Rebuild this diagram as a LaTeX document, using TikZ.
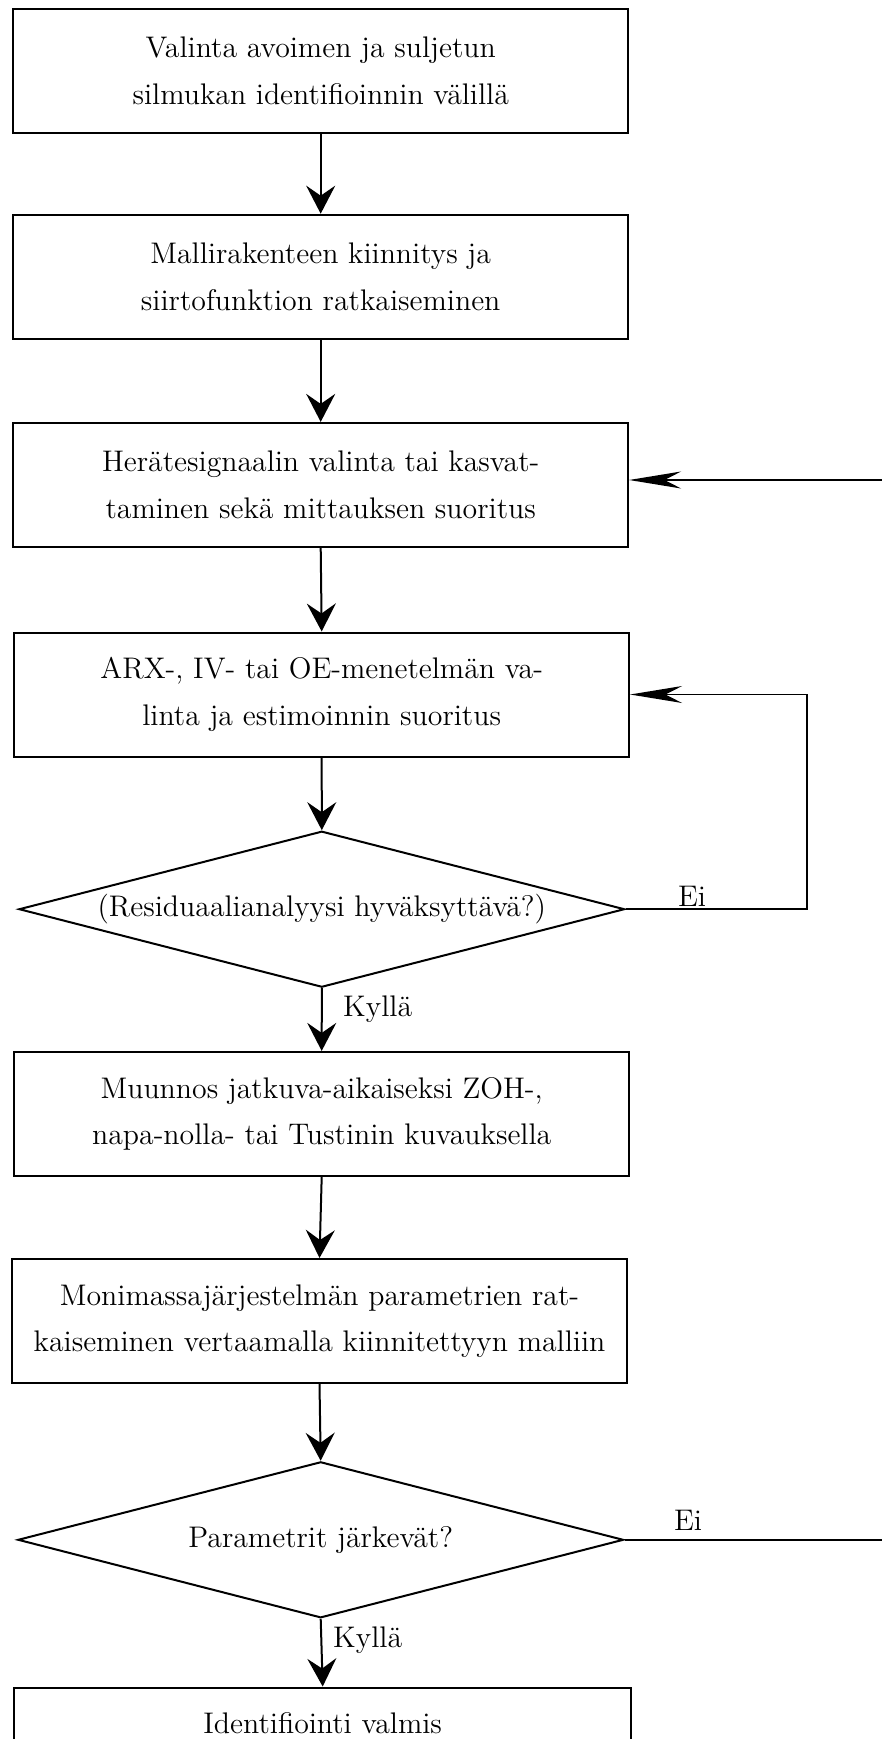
\documentclass[tikz,border=0pt]{standalone}
\usetikzlibrary{shapes.geometric,arrows.meta}
\begin{document}
\begin{tikzpicture}[x=0.5pt,y=-0.5pt,
  every node/.style={font=\fontsize{14.9}{23.3}\selectfont},
  stepbox/.style={draw,line width=1pt,minimum width=307.4pt,minimum height=62pt,align=center,inner sep=0pt},
  decision/.style={draw,line width=1pt,shape=diamond,aspect=3.9,minimum width=302.8pt,minimum height=78pt,inner sep=0pt,align=center},
  mainarrow/.style={line width=1pt,-{Stealth[length=14pt,width=14.5pt,inset=5pt]}},
  backarrow/.style={line width=0.9pt,-{Stealth[length=26pt,width=8.5pt,inset=8.3pt]}},
  lbl/.style={inner sep=0pt}]
\useasboundingbox (0,0) rectangle (882,1739);
\clip (0,0) rectangle (882,1739);
\node[stepbox] (b1) at (320.7,71) {Valinta avoimen ja suljetun\\silmukan identifioinnin välillä};
\node[stepbox] (b2) at (320.7,276.7) {Mallirakenteen kiinnitys ja\\siirtofunktion ratkaiseminen};
\node[stepbox] (b3) at (320.7,484.9) {Herätesignaalin valinta tai kasvat-\\taminen sekä mittauksen suoritus};
\node[stepbox] (b4) at (321.7,694.5) {ARX-, IV- tai OE-menetelmän va-\\linta ja estimoinnin suoritus};
\node[decision] (d1) at (321.8,909.2) {(Residuaalianalyysi hyväksyttävä?)};
\node[stepbox] (b5) at (321.7,1113.9) {Muunnos jatkuva-aikaiseksi ZOH-,\\napa-nolla- tai Tustinin kuvauksella};
\node[stepbox] (b6) at (319.5,1321) {Monimassajärjestelmän parametrien rat-\\kaiseminen vertaamalla kiinnitettyyn malliin};
\node[decision] (d2) at (320.7,1539.8) {Parametrit järkevät?};
\node[stepbox,minimum width=308.3pt,minimum height=35.5pt] (b7) at (322.7,1723) {Identifiointi valmis};

\draw[mainarrow] (b1.south) -- (b2.north);
\draw[mainarrow] (b2.south) -- (b3.north);
\draw[mainarrow] (b3.south) -- (b4.north);
\draw[mainarrow] (b4.south) -- (d1.north);
\draw[mainarrow] (d1.south) -- (b5.north);
\draw[mainarrow] (b5.south) -- (b6.north);
\draw[mainarrow] (b6.south) -- (d2.north);
\draw[mainarrow] (d2.south) -- (b7.north);

\coordinate (r1) at (806.6,694.5);
\coordinate (r2) at (900,480);
\draw[backarrow] (d1.east) -| (r1) -- (b4.east);
\draw[backarrow] (d2.east) -| (r2) -- (r2 -| b3.east);

\node[lbl] (ei1) at (692,896.4) {Ei};
\node[lbl,anchor=west] (ky1) at (342.8,1009.6) {Kyllä};
\node[lbl] (ei2) at (688,1520) {Ei};
\node[lbl,anchor=west] (ky2) at (332.8,1639.7) {Kyllä};
\end{tikzpicture}
\end{document}
